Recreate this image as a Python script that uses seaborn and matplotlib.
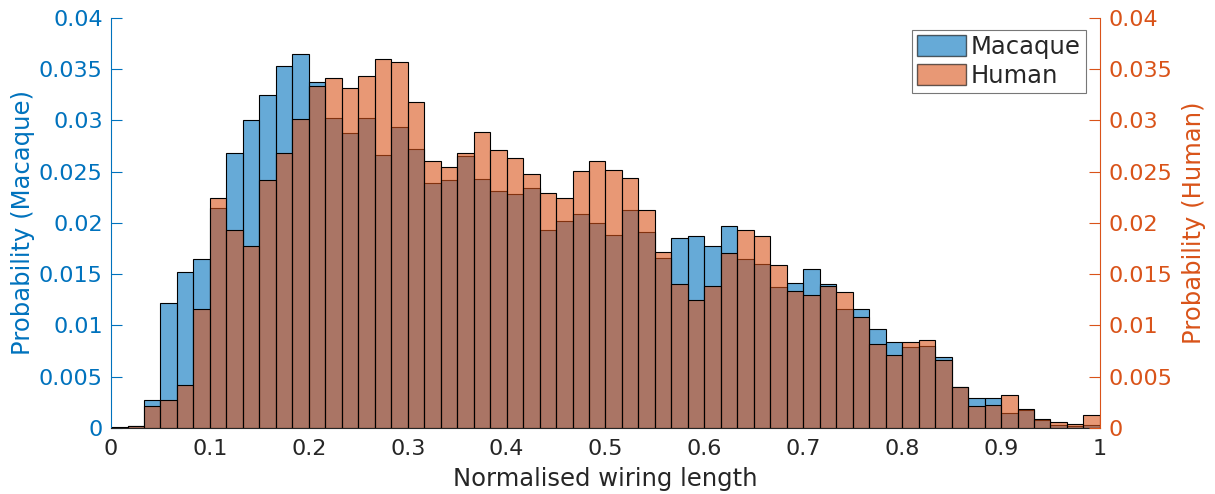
import numpy as np
import pandas as pd
import matplotlib
matplotlib.use("Agg")
import matplotlib.pyplot as plt
from matplotlib.patches import Patch
import seaborn as sns

# 60 equal-width bins over [0, 1]
n_bins = 60

macaque = [
    0.0001, 0.0002, 0.0027, 0.0122, 0.0152, 0.0165, 0.0215, 0.0268, 0.0300, 0.0325,
    0.0353, 0.0365, 0.0338, 0.0302, 0.0288, 0.0302, 0.0266, 0.0294, 0.0272, 0.0239,
    0.0242, 0.0265, 0.0243, 0.0231, 0.0228, 0.0234, 0.0193, 0.0202, 0.0209, 0.0200,
    0.0188, 0.0213, 0.0191, 0.0166, 0.0185, 0.0187, 0.0178, 0.0197, 0.0165, 0.0160,
    0.0138, 0.0141, 0.0155, 0.0140, 0.0116, 0.0116, 0.0097, 0.0084, 0.0079, 0.0080,
    0.0069, 0.0040, 0.0029, 0.0029, 0.0015, 0.0018, 0.0008, 0.0003, 0.0002, 0.0003,
]
human = [
    0.0000, 0.0002, 0.0021, 0.0027, 0.0042, 0.0116, 0.0224, 0.0193, 0.0178, 0.0242,
    0.0268, 0.0301, 0.0334, 0.0341, 0.0332, 0.0343, 0.0360, 0.0357, 0.0318, 0.0260,
    0.0255, 0.0268, 0.0289, 0.0271, 0.0263, 0.0248, 0.0229, 0.0224, 0.0251, 0.0260,
    0.0252, 0.0244, 0.0213, 0.0172, 0.0140, 0.0125, 0.0139, 0.0171, 0.0193, 0.0187,
    0.0159, 0.0134, 0.0130, 0.0139, 0.0133, 0.0108, 0.0082, 0.0071, 0.0084, 0.0086,
    0.0066, 0.0040, 0.0021, 0.0022, 0.0032, 0.0019, 0.0009, 0.0006, 0.0004, 0.0013,
]

y_ticks = [0, 0.005, 0.01, 0.015, 0.02, 0.025, 0.03, 0.035, 0.04]
y_ticklabels = ["0", "0.005", "0.01", "0.015", "0.02", "0.025", "0.03", "0.035", "0.04"]
x_ticks = [0, 0.1, 0.2, 0.3, 0.4, 0.5, 0.6, 0.7, 0.8, 0.9, 1]
x_ticklabels = ["0", "0.1", "0.2", "0.3", "0.4", "0.5", "0.6", "0.7", "0.8", "0.9", "1"]

bin_centers = (np.arange(n_bins) + 0.5) / n_bins
df_m = pd.DataFrame({"length": bin_centers, "prob": macaque})
df_h = pd.DataFrame({"length": bin_centers, "prob": human})

blue = "#0072BD"
orange = "#D95319"
dark = "#262626"

sns.set_style("white")
plt.rcParams["font.family"] = ["DejaVu Sans"]

fig = plt.figure(figsize=(12.15, 4.94), dpi=100)
ax = fig.add_axes([0.0914, 0.1336, 0.8139, 0.8300])
ax2 = ax.twinx()

sns.histplot(data=df_m, x="length", weights="prob", bins=n_bins, binrange=(0, 1),
             stat="count", color=blue, alpha=0.6, edgecolor="black", linewidth=0.8,
             ax=ax)
sns.histplot(data=df_h, x="length", weights="prob", bins=n_bins, binrange=(0, 1),
             stat="count", color=orange, alpha=0.6, edgecolor="black", linewidth=0.8,
             ax=ax2)

for a in (ax, ax2):
    a.set_xlim(0, 1)
    a.set_ylim(0, 0.04)
    a.set_yticks(y_ticks)
    a.spines["top"].set_visible(False)

ax.set_yticklabels(y_ticklabels)
ax2.set_yticklabels(y_ticklabels)
ax.set_xticks(x_ticks)
ax.set_xticklabels(x_ticklabels)

ax.tick_params(axis="y", colors=blue, direction="in", length=8, labelsize=16, pad=6)
ax2.tick_params(axis="y", colors=orange, direction="in", length=8, labelsize=16, pad=6)
ax.tick_params(axis="x", colors=dark, direction="in", length=8, labelsize=16, pad=8)

ax.spines["left"].set_color(blue)
ax.spines["right"].set_visible(False)
ax2.spines["left"].set_visible(False)
ax2.spines["right"].set_color(orange)
ax.spines["bottom"].set_color(dark)
ax2.spines["bottom"].set_visible(False)

ax.set_ylabel("Probability (Macaque)", color=blue, fontsize=17.5, labelpad=3)
ax2.set_ylabel("Probability (Human)", color=orange, fontsize=17.5, labelpad=7)
ax.set_xlabel("Normalised wiring length", color=dark, fontsize=17.5, labelpad=6)

handles = [Patch(facecolor=blue, alpha=0.6, edgecolor="black"),
           Patch(facecolor=orange, alpha=0.6, edgecolor="black")]
leg = ax2.legend(handles, ["Macaque", "Human"], loc="upper right",
                 bbox_to_anchor=(0.986, 0.971), fontsize=17.5, frameon=True,
                 fancybox=False, edgecolor="#555555", handlelength=2.0,
                 handleheight=0.95, handletextpad=0.2, borderpad=0.22,
                 labelspacing=0.18, borderaxespad=0)
leg.get_frame().set_linewidth(0.8)

fig.savefig("out.png", dpi=100)
